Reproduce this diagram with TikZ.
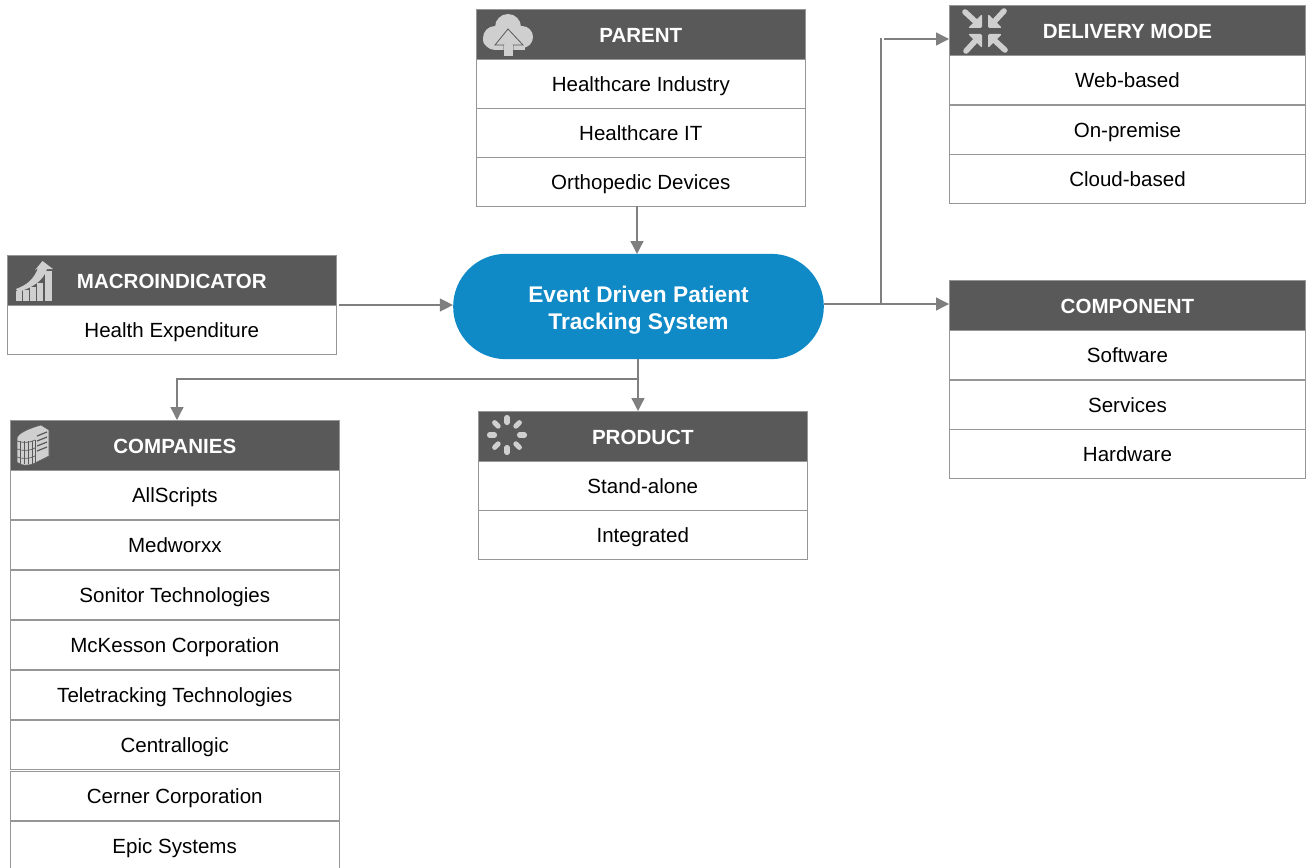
\documentclass[tikz,border=0pt]{standalone}
\usepackage{fontspec}
\setmainfont{Liberation Sans}
\usetikzlibrary{arrows.meta,shapes.misc}
\definecolor{headgray}{HTML}{595959}
\definecolor{linegray}{HTML}{969696}
\definecolor{arrowgray}{HTML}{7F7F7F}
\definecolor{icongray}{HTML}{CFCFCF}
\definecolor{hubblue}{HTML}{0F8AC7}
\begin{document}
\begin{tikzpicture}[x=0.75pt,y=-0.75pt,
	cell/.style={rectangle, draw=linegray, line width=0.7pt, fill=white, anchor=north west, inner sep=0pt, minimum width=246.5pt, minimum height=37pt, text height=11.6pt, text depth=0pt, font=\fontsize{15.4}{18}\selectfont},
	head/.style={cell, fill=headgray, text=white, minimum height=37.5pt, font=\fontsize{15.4}{18}\selectfont\bfseries},
	wide/.style={minimum width=267pt},
	hub/.style={rounded rectangle, fill=hubblue, text=white, minimum width=278pt, minimum height=79pt, inner sep=0pt, text height=27pt, text depth=12.6pt, font=\fontsize{17}{20}\selectfont\bfseries},
	link/.style={draw=arrowgray, line width=1pt, ->},
	>={Triangle[length=9.75pt,width=9.75pt]}]
	\useasboundingbox (0,0) rectangle (1309,867);
	
	%Nodes
	\node[hub]	(hub)	at	(638.5,306.5)	{\begin{tabular}{@{}c@{}}Event Driven Patient\\Tracking System\end{tabular}};
	
	\node[head]	(parent)	at	(476,9)	{PARENT};
	\node[cell]	(parent1)	at	(476,59)	{Healthcare Industry};
	\node[cell]	(parent2)	at	(476,108)	{Healthcare IT};
	\node[cell]	(parent3)	at	(476,157)	{Orthopedic Devices};
	
	\node[head, wide]	(delivery)	at	(949,5)	{DELIVERY MODE};
	\node[cell, wide]	(delivery1)	at	(949,55)	{Web-based};
	\node[cell, wide]	(delivery2)	at	(949,104.5)	{On-premise};
	\node[cell, wide]	(delivery3)	at	(949,154)	{Cloud-based};
	
	\node[head, wide]	(component)	at	(949,280)	{COMPONENT};
	\node[cell, wide]	(component1)	at	(949,330)	{Software};
	\node[cell, wide]	(component2)	at	(949,379.5)	{Services};
	\node[cell, wide]	(component3)	at	(949,429)	{Hardware};
	
	\node[head]	(macro)	at	(7,255)	{MACROINDICATOR};
	\node[cell]	(macro1)	at	(7,305)	{Health Expenditure};
	
	\node[head]	(product)	at	(478,411)	{PRODUCT};
	\node[cell]	(product1)	at	(478,461)	{Stand-alone};
	\node[cell]	(product2)	at	(478,510)	{Integrated};
	
	\node[head]	(companies)	at	(10,420)	{COMPANIES};
	\node[cell]	(company1)	at	(10,470)	{AllScripts};
	\node[cell]	(company2)	at	(10,520)	{Medworxx};
	\node[cell]	(company3)	at	(10,570)	{Sonitor Technologies};
	\node[cell]	(company4)	at	(10,620)	{McKesson Corporation};
	\node[cell]	(company5)	at	(10,670)	{Teletracking Technologies};
	\node[cell]	(company6)	at	(10,719.5)	{Centrallogic};
	\node[cell]	(company7)	at	(10,771)	{Cerner Corporation};
	\node[cell, minimum width=247pt]	(company8)	at	(9.5,820.5)	{Epic Systems};
	
	\coordinate (macroout)	at (339,305);
	\coordinate (branchup)	at (881,304);
	\coordinate (branchtop)	at (881,38);
	\coordinate (deliveryin)	at (884,39);
	\coordinate (branchlow)	at (638,379);
	
	%Lines
	\draw[link] (637,206) -- (637,254);
	\draw[link] (macroout) -- (hub.west |- macroout);
	\draw[link] (hub.east |- branchup) -- (component.west |- branchup);
	\draw[draw=arrowgray, line width=1pt] (branchup) -- (branchtop);
	\draw[link] (deliveryin) -- (delivery.west |- deliveryin);
	\draw[link] (hub.south -| branchlow) -- (branchlow |- product.north);
	\draw[link] (branchlow) -| (177,420);
	
	%Icons
	\fill[icongray] (495,38) circle (12) (508,27) circle (13) (522,37) circle (11) (490,40) circle (7);
	\fill[icongray] (495,40) rectangle (525,50);
	\filldraw[fill=icongray, draw=headgray, line width=0.6pt] (495,45) -- (508,29) -- (523,45) -- (513,45) -- (513,50) -- (504,50) -- (504,45) -- cycle;
	\fill[icongray] (504,45.5) rectangle (513,56);
	
	\foreach \a in {0,90,180,270}{
		\begin{scope}[shift={(985,31)}, rotate=\a]
			\fill[icongray, rounded corners=1pt] (-3,-3) -- (-3,-17) -- (-17,-3) -- cycle;
			\draw[icongray, line width=4.2pt, line cap=round] (-8,-8) -- (-20,-19);
		\end{scope}
	}
	
	\foreach \a in {0,45,...,315}
		\draw[icongray, line width=3.8pt, line cap=round] ([shift={(\a:12.5)}]507,435) -- ([shift={(\a:17.5)}]507,435);
	
	\foreach \l/\r/\t in {16/21.5/291,23/29/290,30/36/287,37/43/283,45/52/271}
		\fill[icongray] (\l,\t) rectangle (\r,301);
	\fill[icongray] (16,289) .. controls (27,285) and (34,279) .. (38,268) -- (35,270) -- (42.5,261) -- (53,269) -- (47,269) .. controls (43,282) and (31,288) .. (18,292) -- cycle;
	
	\filldraw[fill=icongray, draw=headgray, line width=0.4pt] (17,438) .. controls (18,433) and (30,428) .. (41,425) -- (49,430) -- (49,456) -- (35,463) .. controls (30,466) and (20,466) .. (17,462) -- cycle;
	\foreach \x in {20,24,28,32}
		\draw[headgray, line width=0.5pt] (\x,441) -- (\x,464);
	\foreach \y in {441,449,457}
		\draw[headgray, line width=0.5pt] (17,\y) .. controls (22,\y+2) and (30,\y+2) .. (35,\y-1);
	\draw[headgray, line width=0.5pt] (35,440) -- (35,463);
	\foreach \y in {436,441,446,451}
		\draw[headgray, line width=0.9pt] (37,\y) -- (47,\y-4);
\end{tikzpicture}
\end{document}
